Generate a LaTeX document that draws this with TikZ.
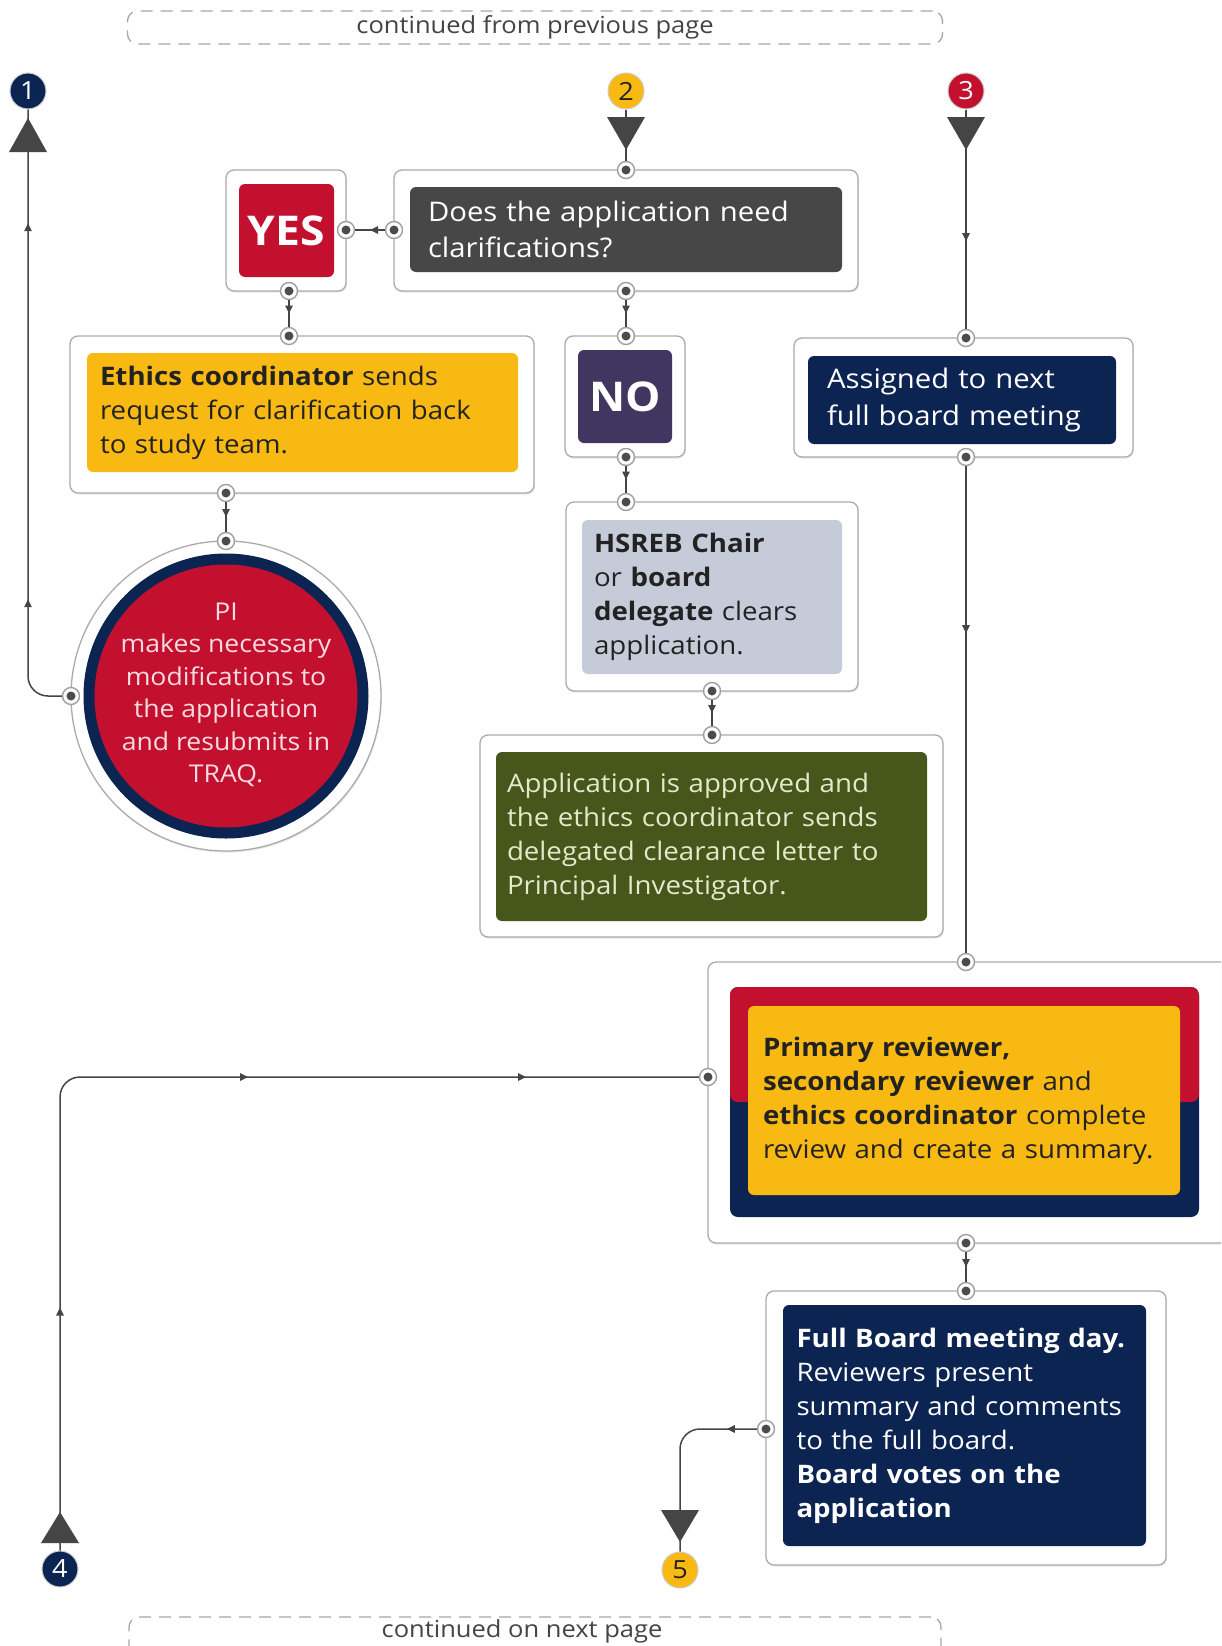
\documentclass[tikz,border=0pt]{standalone}
\usepackage{fontspec}
\setmainfont{Open Sans}[FakeStretch=1.085]
\usetikzlibrary{arrows.meta,decorations.markings,calc,shadows}
\definecolor{navy}{HTML}{0C2451}
\definecolor{wred}{HTML}{C4102F}
\definecolor{gold}{HTML}{F8B912}
\definecolor{qgray}{HTML}{474747}
\definecolor{purp}{HTML}{41365F}
\definecolor{lblue}{HTML}{C6CBD9}
\definecolor{olive}{HTML}{47561B}
\definecolor{olivetxt}{HTML}{E4E9CC}
\definecolor{linec}{HTML}{454545}
\definecolor{boxline}{HTML}{ABABAB}
\definecolor{darktxt}{HTML}{222222}
\definecolor{txtgray}{HTML}{444444}
\definecolor{pitxt}{HTML}{F6DCE0}
\newcommand\qfont{\fontsize{27}{36.5}\selectfont}
\newcommand\bodyfont{\fontsize{25.5}{34}\selectfont}
\newcommand\pifont{\fontsize{24.5}{32.5}\selectfont}
\newcommand\bigfont{\fontsize{41}{41}\selectfont\bfseries}
\newcommand\contfont{\fontsize{23.5}{23.5}\selectfont}
\tikzset{
 smalltip/.tip={Triangle[length=8pt,width=7.5pt]},
 outerbox/.style={draw=boxline, fill=white, rounded corners=8pt, line width=1.3pt, inner sep=0pt,
   drop shadow={shadow xshift=0.8pt, shadow yshift=-1.6pt, opacity=0.18, fill=gray}},
 innerbox/.style={rounded corners=6pt, inner sep=0pt, align=left},
 port/.style={circle, draw=gray!75, fill=white, line width=1.4pt, minimum size=17pt, inner sep=0pt,
   path picture={\fill[black!70] (path picture bounding box.center) circle[radius=4.5pt];}},
 numc/.style={circle, draw=gray!40, line width=1pt, minimum size=36pt, inner sep=0pt, font=\fontsize{25}{25}\selectfont},
 conn/.style={draw=linec, line width=1.5pt, rounded corners=20pt},
 midarrow/.style={postaction={decorate}, decoration={markings, mark=at position #1 with {\arrow[linec]{smalltip}}}},
 bigtri/.style={fill=linec},
 contbox/.style={draw=gray!70, dash pattern=on 12pt off 8pt, rounded corners=10pt, line width=1.3pt, inner sep=0pt},
}
\begin{document}
\begin{tikzpicture}[x=1pt,y=-1pt]
\useasboundingbox (0,0) rectangle (1221,1646);
\clip (0,0) rectangle (1221,1646);
\fill[white] (0,0) rectangle (1221,1646);

% continuation boxes
\node[contbox, minimum width=815pt, minimum height=33pt, font=\contfont, text=txtgray] (ctop) at (535,27.5) {continued from previous page};
\node[contbox, minimum width=812pt, minimum height=46pt] (cbot) at (535,1640) {};
\node[font=\contfont, text=txtgray] (cbottext) at (522,1631) {continued on next page};

% question
\node[outerbox, minimum width=464pt, minimum height=121pt] (qo) at (626,230.5) {};
\node[innerbox, fill=qgray, text=white, font=\qfont, minimum width=432pt, minimum height=85pt, text width=396pt] (q) at (626,229.5) {Does the application need\\clarifications?};

% yes
\node[outerbox, minimum width=120pt, minimum height=121pt] (yo) at (286,230.5) {};
\node[innerbox, fill=wred, text=white, font=\bigfont, minimum width=95pt, minimum height=93pt, align=center] (yes) at (286.5,230.5) {YES};

% ethics coordinator
\node[outerbox, minimum width=464pt, minimum height=157pt] (eo) at (302,414.5) {};
\node[innerbox, fill=gold, text=darktxt, font=\bodyfont, minimum width=431pt, minimum height=119pt, text width=405pt] (eth) at (302.5,412.5) {\textbf{Ethics coordinator} sends\\request for clarification back\\to study team.};

% PI circle
\node[circle, draw=boxline, line width=1.3pt, fill=white, minimum size=310pt, inner sep=0pt,
   drop shadow={shadow xshift=0.8pt, shadow yshift=-1.6pt, opacity=0.18, fill=gray}] (pio) at (226,696) {};
\node[circle, fill=navy, minimum size=285pt, inner sep=0pt] (pin) at (226,696) {};
\node[circle, fill=wred, minimum size=263pt, inner sep=0pt] (pir) at (226,696) {};
\node[font=\pifont, text=pitxt, align=center] (pi) at (226,695) {PI\\makes necessary\\modifications to\\the application\\and resubmits in\\TRAQ.};

% no
\node[outerbox, minimum width=120pt, minimum height=121pt] (noo) at (625,396.5) {};
\node[innerbox, fill=purp, text=white, font=\bigfont, minimum width=94pt, minimum height=93pt, align=center] (no) at (625,396.5) {NO};

% HSREB
\node[outerbox, minimum width=292pt, minimum height=189pt] (ho) at (712,596.5) {};
\node[innerbox, fill=lblue, text=darktxt, font=\bodyfont, minimum width=260pt, minimum height=154pt, text width=236pt] (hs) at (712,597) {\textbf{HSREB Chair}\\or \textbf{board}\\\textbf{delegate} clears\\application.};

% green approval
\node[outerbox, minimum width=463pt, minimum height=202pt] (go) at (711.5,836) {};
\node[innerbox, fill=olive, text=olivetxt, font=\bodyfont, minimum width=431pt, minimum height=169pt, text width=409pt] (gr) at (711.5,836.5) {Application is approved and\\the ethics coordinator sends\\delegated clearance letter to\\Principal Investigator.};

% assigned
\node[outerbox, minimum width=339pt, minimum height=119pt] (ao) at (963.5,397.5) {};
\node[innerbox, fill=navy, text=white, font=\qfont, minimum width=308pt, minimum height=88pt, text width=270pt] (as) at (962,400) {Assigned to next\\full board meeting};

% primary reviewer
\node[outerbox, minimum width=532pt, minimum height=281pt] (pro) at (974,1102.5) {};
\node[rounded corners=8pt, fill=navy, minimum width=469pt, minimum height=230pt, inner sep=0pt,
   path picture={\fill[wred] (path picture bounding box.north west) rectangle (path picture bounding box.east);}] (prc) at (964.5,1102) {};
\node[innerbox, fill=gold, text=darktxt, font=\bodyfont, minimum width=432pt, minimum height=189pt, text width=402pt] (pr) at (964,1100.5) {\textbf{Primary reviewer,}\\\textbf{secondary reviewer} and\\\textbf{ethics coordinator} complete\\review and create a summary.};

% full board
\node[outerbox, minimum width=400pt, minimum height=274pt] (fbo) at (966,1428) {};
\node[innerbox, fill=navy, text=white, font=\bodyfont, minimum width=363pt, minimum height=241pt, text width=336pt] (fb) at (964.5,1425.5) {\textbf{Full Board meeting day.}\\Reviewers present\\summary and comments\\to the full board.\\\textbf{Board votes on the}\\\textbf{application}};

% number circles
\node[numc, fill=navy, text=white] (c1) at (28,91) {1};
\node[numc, fill=gold, text=darktxt] (c2) at (626,91) {2};
\node[numc, fill=wred, text=white] (c3) at (966,91) {3};
\node[numc, fill=navy, text=white] (c4) at (60,1569) {4};
\node[numc, fill=gold, text=darktxt] (c5) at (680,1570) {5};

% ports
\node[port] (qt) at (626,170) {};
\node[port] (ql) at (394,230) {};
\node[port] (qb) at (626,291) {};
\node[port] (yr) at (346,230) {};
\node[port] (yb) at (289,291) {};
\node[port] (et) at (289,336) {};
\node[port] (eb) at (226,493) {};
\node[port] (pit) at (226,541) {};
\node[port] (pil) at (71,696) {};
\node[port] (nt) at (626,336) {};
\node[port] (nb) at (626,457) {};
\node[port] (ht) at (626,502) {};
\node[port] (hb) at (712,691) {};
\node[port] (gt) at (712,735) {};
\node[port] (at) at (966,338) {};
\node[port] (ab) at (966,457) {};
\node[port] (prt) at (966,962) {};
\node[port] (prl) at (708,1077) {};
\node[port] (prb) at (966,1243) {};
\node[port] (fbt) at (966,1291) {};
\node[port] (fbl) at (766,1429) {};

% connectors
\draw[conn] (c2) -- (qt);
\draw[conn, midarrow=0.5] (ql) -- (yr);
\draw[conn, midarrow=0.5] (yb) -- (et);
\draw[conn, midarrow=0.5] (eb) -- (pit);
\draw[conn, midarrow=0.5] (qb) -- (nt);
\draw[conn, midarrow=0.5] (nb) -- (ht);
\draw[conn, midarrow=0.5] (hb) -- (gt);
\draw[conn, midarrow=0.6] (c3) -- (at);
\draw[conn, midarrow=0.343] (ab) -- (prt);
\draw[conn, midarrow=0.5] (prb) -- (fbt);
\draw[conn, postaction={decorate}, decoration={markings,
   mark=at position 243pt with {\arrow[linec]{smalltip}},
   mark=at position 653pt with {\arrow[linec]{smalltip}},
   mark=at position 931pt with {\arrow[linec]{smalltip}}}] (c4) |- (prl);
\draw[conn, postaction={decorate}, decoration={markings,
   mark=at position 122pt with {\arrow[linec]{smalltip}},
   mark=at position 498pt with {\arrow[linec]{smalltip}}}] (pil) -| (c1);
\draw[conn, midarrow=30pt] (fbl) -| (c5);

% big triangles
\fill[bigtri] ($(c1)+(0,27)$) -- ($(c1)+(19,61)$) -- ($(c1)+(-19,61)$) -- cycle;
\fill[bigtri] ($(c2)+(0,59)$) -- ($(c2)+(19,26)$) -- ($(c2)+(-19,26)$) -- cycle;
\fill[bigtri] ($(c3)+(0,59)$) -- ($(c3)+(19,26)$) -- ($(c3)+(-19,26)$) -- cycle;
\fill[bigtri] ($(c4)+(0,-57)$) -- ($(c4)+(19,-26)$) -- ($(c4)+(-19,-26)$) -- cycle;
\fill[bigtri] ($(c5)+(0,-28)$) -- ($(c5)+(19,-60)$) -- ($(c5)+(-19,-60)$) -- cycle;
\end{tikzpicture}
\end{document}
